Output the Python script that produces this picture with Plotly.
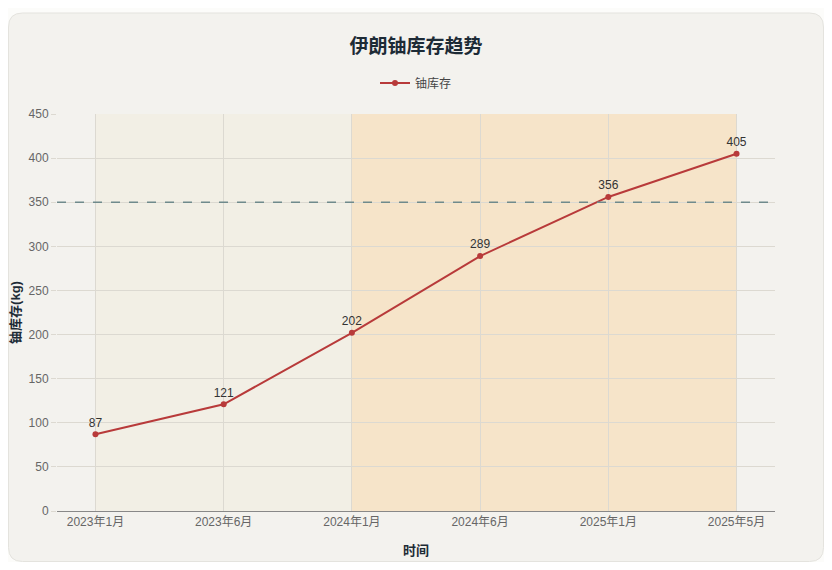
import plotly.graph_objects as go

# 数据
months = ["2023年1月", "2023年6月", "2024年1月", "2024年6月", "2025年1月", "2025年5月"]
stock_kg = [87, 121, 202, 289, 356, 405]
threshold = 350

FONT = "Liberation Sans, Noto Sans CJK SC, sans-serif"

fig = go.Figure()

fig.add_trace(
    go.Scatter(
        x=months,
        y=stock_kg,
        name="铀库存",
        mode="lines+markers+text",
        text=[str(v) for v in stock_kg],
        textposition="top center",
        textfont=dict(size=12, color="#333333"),
        line=dict(color="#b83a3a", width=2),
        marker=dict(color="#b83a3a", size=6),
    )
)

# 卡片背景（圆角），页面本身有 8px 边距
FW, FH = 816, 554
L, W = 49, 718
B, H = 503, 397
def px(x):
    return (x - L) / W
def py(y):
    return (B - y) / H
x0, x1, y0, y1, r = 0.5, 815.5, 5, 553.5, 14
card = (
    f"M {px(x0 + r)},{py(y0)} L {px(x1 - r)},{py(y0)} "
    f"Q {px(x1)},{py(y0)} {px(x1)},{py(y0 + r)} "
    f"L {px(x1)},{py(y1 - r)} Q {px(x1)},{py(y1)} {px(x1 - r)},{py(y1)} "
    f"L {px(x0 + r)},{py(y1)} Q {px(x0)},{py(y1)} {px(x0)},{py(y1 - r)} "
    f"L {px(x0)},{py(y0 + r)} Q {px(x0)},{py(y0)} {px(x0 + r)},{py(y0)} Z"
)

shapes = [
    dict(type="path", path=card, xref="paper", yref="paper", layer="below",
         fillcolor="#f3f2ee", line=dict(color="#e4e3de", width=1)),
    dict(type="rect", xref="x", yref="y", x0=0, x1=2, y0=0, y1=450, layer="below",
         fillcolor="#f2efe5", line=dict(width=0)),
    dict(type="rect", xref="x", yref="y", x0=2, x1=5, y0=0, y1=450, layer="below",
         fillcolor="#f6e4c9", line=dict(width=0)),
    dict(type="line", xref="paper", yref="y", x0=0, x1=1, y0=threshold, y1=threshold,
         line=dict(color="#6f8a8c", width=1.5, dash="dash")),
]

fig.update_layout(
    width=FW,
    height=FH,
    margin=dict(l=L, r=FW - L - W, t=B - H, b=FH - B),
    paper_bgcolor="#fcfcfa",
    plot_bgcolor="rgba(0,0,0,0)",
    font=dict(family=FONT, color="#666666", size=12),
    title=dict(text="<b>伊朗铀库存趋势</b>", x=0.5, xanchor="center", y=1 - 38 / FH, yanchor="middle",
               font=dict(size=19, color="#1d2b36")),
    showlegend=True,
    legend=dict(orientation="h", x=0.5, xanchor="center", y=1.078, yanchor="middle",
                font=dict(size=12, color="#444444"), bgcolor="rgba(0,0,0,0)"),
    shapes=shapes,
    xaxis=dict(
        type="category",
        range=[-0.3, 5.3],
        title=dict(text="<b>时间</b>", font=dict(size=13, color="#1d2b36"), standoff=17),
        automargin=False,
        showgrid=True,
        gridcolor="#dcd9d1",
        showline=True,
        linecolor="#888888",
        linewidth=1,
        ticks="",
        tickfont=dict(size=12, color="#666666"),
        zeroline=False,
    ),
    yaxis=dict(
        range=[0, 450],
        dtick=50,
        title=dict(text="<b>铀库存(kg)</b>", font=dict(size=13, color="#1d2b36"), standoff=10),
        automargin=False,
        showgrid=True,
        gridcolor="#dcd9d1",
        ticks="outside",
        ticklen=5,
        tickcolor="#dcd9d1",
        tickfont=dict(size=12, color="#666666"),
        zeroline=False,
        showline=False,
    ),
)

fig.write_html("out.html")
